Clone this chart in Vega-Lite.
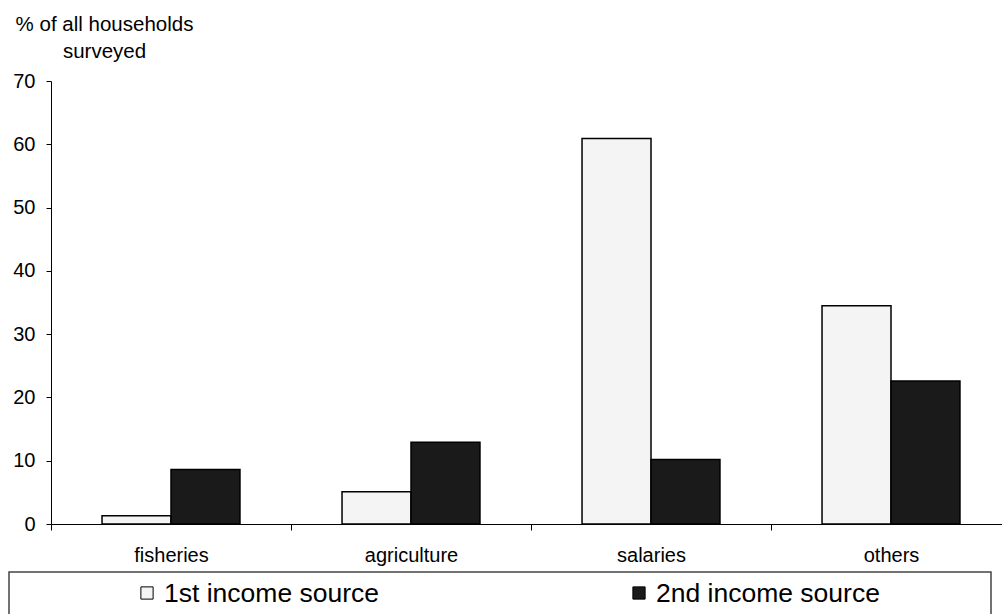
{
  "$schema": "https://vega.github.io/schema/vega-lite/v6.json",
  "autosize": "none",
  "padding": {"left": 9, "top": 81, "right": 993, "bottom": 533},
  "spacing": 6,
  "config": {
    "font": "Liberation Sans",
    "view": {"stroke": null},
    "axis": {"labelColor": "black", "domainColor": "black", "tickColor": "black", "titleColor": "black", "grid": false, "labelFont": "Liberation Sans", "titleFont": "Liberation Sans"}
  },
  "resolve": {"scale": {"x": "independent", "y": "independent", "color": "independent", "fill": "independent"}},
  "vconcat": [
    {
      "width": 1002,
      "height": 443,
      "data": {"values": [
        {"category": "fisheries", "source": "1st income source", "value": 1.3},
        {"category": "fisheries", "source": "2nd income source", "value": 8.6},
        {"category": "agriculture", "source": "1st income source", "value": 5.1},
        {"category": "agriculture", "source": "2nd income source", "value": 12.9},
        {"category": "salaries", "source": "1st income source", "value": 60.9},
        {"category": "salaries", "source": "2nd income source", "value": 10.2},
        {"category": "others", "source": "1st income source", "value": 34.5},
        {"category": "others", "source": "2nd income source", "value": 22.6}
      ]},
      "mark": {"type": "bar", "stroke": "black", "strokeWidth": 1.5},
      "encoding": {
        "x": {
          "field": "category", "type": "nominal",
          "sort": ["fisheries", "agriculture", "salaries", "others"],
          "scale": {"range": [42, 1002], "paddingInner": 0, "paddingOuter": 0},
          "axis": {"title": null, "labelAngle": 0, "tickBand": "extent", "tickSize": 6, "labelFontSize": 20, "labelPadding": 15}
        },
        "xOffset": {
          "field": "source", "type": "nominal",
          "sort": ["1st income source", "2nd income source"],
          "scale": {"paddingInner": 0, "paddingOuter": 0.74}
        },
        "y": {
          "field": "value", "type": "quantitative",
          "scale": {"domain": [0, 70], "nice": false},
          "axis": {
            "offset": -42,
            "values": [0, 10, 20, 30, 40, 50, 60, 70],
            "tickSize": 5, "labelFontSize": 20, "labelPadding": 11,
            "title": ["% of all households", "surveyed"],
            "titleAngle": 0, "titleX": 53, "titleY": -67, "titleAlign": "center", "titleBaseline": "top",
            "titleFontSize": 20.5, "titleFontWeight": "normal", "titleLineHeight": 27
          }
        },
        "fill": {
          "field": "source", "type": "nominal",
          "scale": {"domain": ["1st income source", "2nd income source"], "range": ["#f4f4f4", "#1a1a1a"]},
          "legend": null
        }
      }
    },
    {
      "width": 982,
      "height": 60,
      "view": {"stroke": "#444444", "strokeWidth": 1.5},
      "data": {"values": [
        {"source": "1st income source"},
        {"source": "2nd income source"}
      ]},
      "layer": [
        {
          "mark": {"type": "point", "shape": "square", "size": 150, "filled": true, "stroke": "black", "strokeWidth": 1, "opacity": 1, "yOffset": -9},
          "encoding": {
            "x": {"field": "source", "type": "nominal", "scale": {"type": "point", "range": [138, 630], "padding": 0}, "axis": null},
            "fill": {
              "field": "source", "type": "nominal",
              "scale": {"domain": ["1st income source", "2nd income source"], "range": ["#f4f4f4", "#1a1a1a"]},
              "legend": null
            }
          }
        },
        {
          "mark": {"type": "text", "align": "left", "baseline": "middle", "dx": 17, "dy": -8, "fontSize": 26.5, "font": "Liberation Sans", "color": "black"},
          "encoding": {
            "x": {"field": "source", "type": "nominal", "scale": {"type": "point", "range": [138, 630], "padding": 0}, "axis": null},
            "text": {"field": "source"}
          }
        }
      ]
    }
  ]
}
